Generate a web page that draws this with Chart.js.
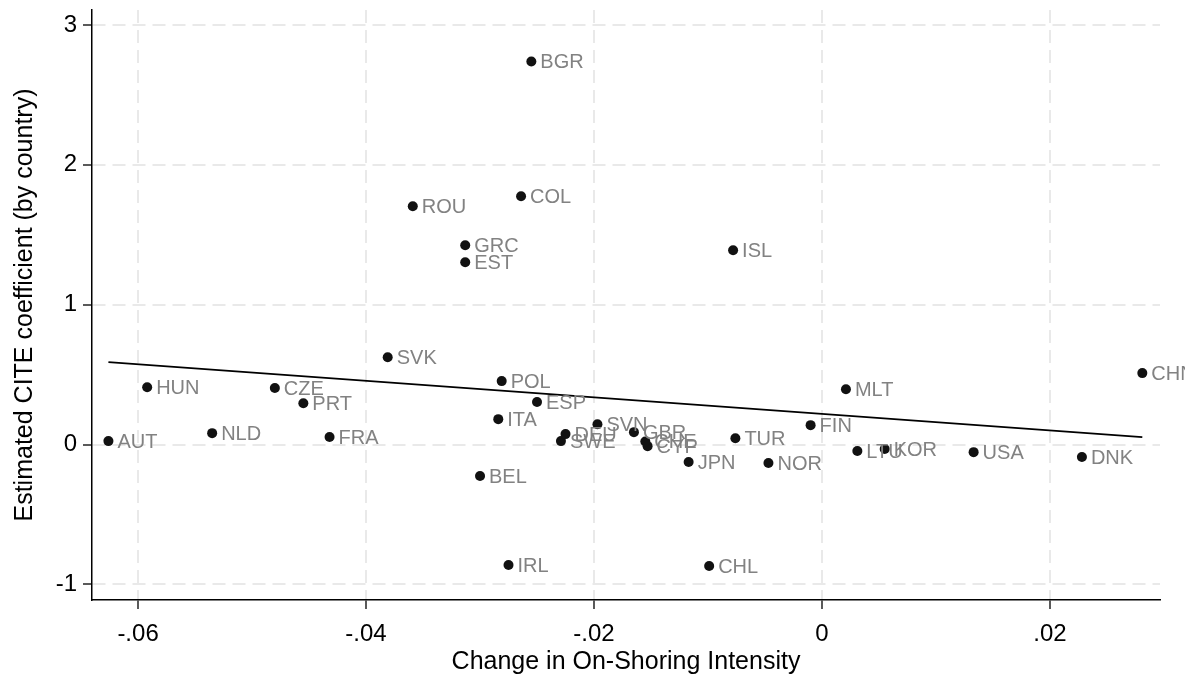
<!DOCTYPE html>
<html>
<head>
<meta charset="utf-8">
<script src="https://cdn.jsdelivr.net/npm/chart.js@4.4.0/dist/chart.umd.min.js"></script>
<style>
  html, body { margin: 0; padding: 0; background: #fff; }
  #wrap { width: 1194px; height: 675px; }
</style>
</head>
<body>
<div id="wrap"><canvas id="cite_chart" width="1194" height="675"></canvas></div>
<script>
var countries = ["AUT", "HUN", "NLD", "CZE", "PRT", "FRA", "SVK", "ROU", "GRC", "EST",
  "BEL", "ITA", "POL", "IRL", "COL", "BGR", "ESP", "SWE", "DEU", "SVN",
  "GBR", "CYP", "CHE", "JPN", "CHL", "ISL", "TUR", "NOR", "FIN", "MLT",
  "LTU", "KOR", "USA", "DNK", "CHN"];
var shoring_change = [-0.0626, -0.0592, -0.0535, -0.0480, -0.0455, -0.0432, -0.0381, -0.0359, -0.0313, -0.0313,
  -0.0300, -0.0284, -0.0281, -0.0275, -0.0264, -0.0255, -0.0250, -0.0229, -0.0225, -0.0197,
  -0.0165, -0.0153, -0.0155, -0.0117, -0.0099, -0.0078, -0.0076, -0.0047, -0.0010, 0.0021,
  0.0031, 0.0055, 0.0133, 0.0228, 0.0281];
var cite_coef = [0.025, 0.41, 0.082, 0.404, 0.296, 0.054, 0.625, 1.704, 1.425, 1.304,
  -0.225, 0.182, 0.454, -0.861, 1.775, 2.739, 0.304, 0.025, 0.075, 0.146,
  0.089, -0.011, 0.022, -0.125, -0.868, 1.389, 0.046, -0.132, 0.139, 0.396,
  -0.046, -0.032, -0.054, -0.089, 0.511];

// fitted line, read at its two ends
var fit_x = [-0.0626, 0.0281];
var fit_y = [0.589, 0.054];

var x_ticks = [-0.06, -0.04, -0.02, 0, 0.02];
var x_tick_labels = ["-.06", "-.04", "-.02", "0", ".02"];
var y_ticks = [-1, 0, 1, 2, 3];
var y_tick_labels = ["-1", "0", "1", "2", "3"];

Chart.defaults.font.family = "'Liberation Sans', Arial, sans-serif";
Chart.defaults.color = "#000";

var points = [];
for (var i = 0; i < countries.length; i++) {
  points.push({ x: shoring_change[i], y: cite_coef[i] });
}
var fit_points = [];
for (var j = 0; j < fit_x.length; j++) {
  fit_points.push({ x: fit_x[j], y: fit_y[j] });
}

var countryLabels = {
  id: "countryLabels",
  afterDatasetsDraw: function (chart) {
    var ctx = chart.ctx;
    var meta = chart.getDatasetMeta(0);
    ctx.save();
    ctx.beginPath();
    ctx.rect(0, 0, 1185, 675);
    ctx.clip();
    ctx.font = "20px 'Liberation Sans', Arial, sans-serif";
    ctx.fillStyle = "#828282";
    ctx.textBaseline = "middle";
    ctx.textAlign = "left";
    meta.data.forEach(function (pt, k) {
      ctx.fillText(countries[k], pt.x + 9, pt.y + 1);
    });
    ctx.restore();
  }
};

var gridDash = [13, 7];

var ctx = document.getElementById("cite_chart").getContext("2d");
var myChart = new Chart(ctx, {
  type: "scatter",
  data: {
    datasets: [
      {
        data: points,
        backgroundColor: "#111",
        borderWidth: 0,
        pointRadius: 5,
        pointHoverRadius: 5,
        order: 2
      },
      {
        type: "line",
        data: fit_points,
        borderColor: "#000",
        borderWidth: 1.8,
        pointRadius: 0,
        fill: false,
        order: 1
      }
    ]
  },
  options: {
    responsive: false,
    animation: false,
    devicePixelRatio: 1,
    layout: { padding: { top: 10, right: 34, left: 0, bottom: 0 } },
    plugins: {
      legend: { display: false },
      tooltip: { enabled: false }
    },
    scales: {
      x: {
        type: "linear",
        position: "bottom",
        min: -0.06404,
        max: 0.02965,
        afterBuildTicks: function (s) {
          s.ticks = x_ticks.map(function (v) { return { value: v }; });
        },
        afterFit: function (s) {
          s.height = 75;
          s.paddingLeft = 0;
          s.paddingRight = 0;
        },
        ticks: {
          autoSkip: false,
          maxRotation: 0,
          padding: 11,
          font: { size: 24 },
          color: "#000",
          callback: function (v) {
            return x_tick_labels[x_ticks.indexOf(v)];
          }
        },
        grid: {
          color: "#e9e9e9",
          lineWidth: 2,
          tickColor: "#000",
          tickWidth: 1.3,
          tickLength: 9
        },
        border: { display: true, color: "#000", width: 1.5, dash: gridDash },
        title: {
          display: true,
          text: "Change in On-Shoring Intensity",
          font: { size: 25 },
          color: "#000",
          padding: { top: 0, bottom: -2 }
        }
      },
      y: {
        type: "linear",
        min: -1.111,
        max: 3.107,
        afterBuildTicks: function (s) {
          s.ticks = y_ticks.map(function (v) { return { value: v }; });
        },
        afterFit: function (s) {
          s.width = 92;
          s.paddingTop = 0;
          s.paddingBottom = 0;
        },
        ticks: {
          autoSkip: false,
          padding: 6,
          font: { size: 24 },
          color: "#000",
          callback: function (v) {
            return y_tick_labels[y_ticks.indexOf(v)];
          }
        },
        grid: {
          color: "#e9e9e9",
          lineWidth: 2,
          tickColor: "#000",
          tickWidth: 1.3,
          tickLength: 9
        },
        border: { display: true, color: "#000", width: 1.5, dash: gridDash },
        title: {
          display: true,
          text: "Estimated CITE coefficient (by country)",
          font: { size: 25 },
          color: "#000",
          padding: { top: 10, bottom: 0 }
        }
      }
    }
  },
  plugins: [countryLabels]
});
</script>
</body>
</html>
